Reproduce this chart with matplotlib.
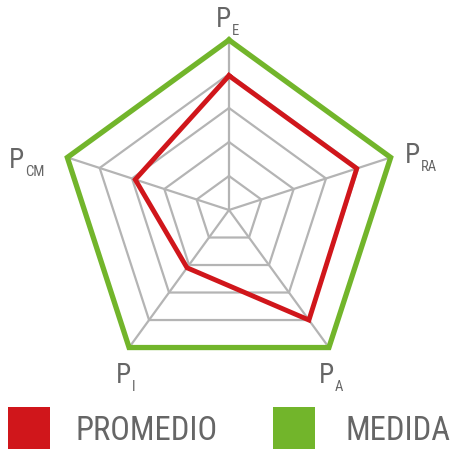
import numpy as np
import matplotlib
matplotlib.use("Agg")
import matplotlib.pyplot as plt
from matplotlib import font_manager as fm
from matplotlib.patches import Rectangle

# ---- data ----
axes_main = ["P", "P", "P", "P", "P"]
axes_sub = ["E", "RA", "A", "I", "CM"]
promedio = [0.79, 0.79, 0.80, 0.42, 0.58]
medida = [1.0, 1.0, 1.0, 1.0, 1.0]
levels = [0.2, 0.4, 0.6, 0.8, 1.0]
legend_labels = ["PROMEDIO", "MEDIDA"]

RED = "#d0161b"
GREEN = "#72b52b"
GRID = "#b4b4b4"
TXT = "#666666"

avail = {f.name for f in fm.fontManager.ttflist}
fam = "DejaVu Sans"
for cand in ["Liberation Sans Narrow", "Roboto Condensed", "DejaVu Sans Condensed", "Roboto"]:
    if cand in avail:
        fam = cand
        break
plt.rcParams["font.family"] = [fam, "DejaVu Sans"]

W, H = 454, 449
fig = plt.figure(figsize=(W / 100, H / 100), dpi=100)
ax = fig.add_axes([0, 0, 1, 1])
cx, cy, R = 229, 210, 170
ax.set_xlim((0 - cx) / R, (W - cx) / R)
ax.set_ylim((cy - H) / R, cy / R)
ax.axis("off")

n = len(axes_sub)
theta = np.pi / 2 - 2 * np.pi * np.arange(n) / n
ux, uy = np.cos(theta), np.sin(theta)

def closed(vals):
    v = np.asarray(vals, float)
    x = v * ux
    y = v * uy
    return np.append(x, x[0]), np.append(y, y[0])

for lv in levels:
    x, y = closed([lv] * n)
    ax.plot(x, y, color=GRID, lw=1.6, zorder=1)
for i in range(n):
    ax.plot([0, ux[i]], [0, uy[i]], color=GRID, lw=1.6, zorder=1)

x, y = closed(medida)
ax.plot(x, y, color=GREEN, lw=3.8, zorder=3, solid_joinstyle="miter")
x, y = closed(promedio)
ax.plot(x, y, color=RED, lw=3.5, zorder=4, solid_joinstyle="miter")

# axis labels (P with subscript), positions in figure pixels (left of P, baseline)
renderer = fig.canvas.get_renderer()
label_px = [(216, 27), (405, 163), (319, 383), (116, 383), (9, 168)]
for (px, py), m, s in zip(label_px, axes_main, axes_sub):
    t = fig.text(px / W, 1 - py / H, m, fontsize=19.5, color=TXT, ha="left", va="baseline")
    bb = t.get_window_extent(renderer)
    fig.text((bb.x1 + 0.5) / W, 1 - (py + 8) / H, s, fontsize=10.5, color=TXT,
             ha="left", va="baseline")

# legend
sq = 42
for (x0, col), lab, tx in zip([(8, RED), (273, GREEN)], legend_labels, [75, 345]):
    fig.patches.append(Rectangle((x0 / W, 1 - (407 + sq) / H), sq / W, sq / H,
                                 transform=fig.transFigure, color=col, lw=0))
    fig.text(tx / W, 1 - 440 / H, lab, fontsize=23.5, color=TXT, ha="left", va="baseline")

fig.savefig("out.png", dpi=100)
